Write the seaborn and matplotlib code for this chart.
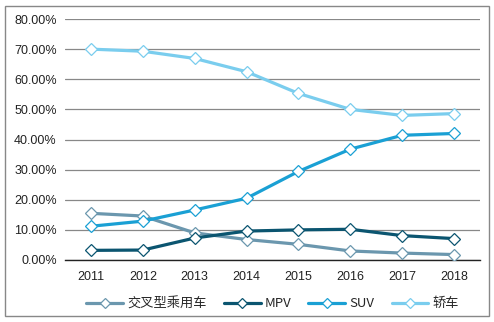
import matplotlib
matplotlib.use("Agg")
import matplotlib.pyplot as plt
import seaborn as sns
import pandas as pd
from matplotlib.ticker import FuncFormatter
from matplotlib.patches import Rectangle

years = ["2011", "2012", "2013", "2014", "2015", "2016", "2017", "2018"]
series_names = ["交叉型乘用车", "MPV", "SUV", "轿车"]
cross = [15.5, 14.6, 9.0, 6.8, 5.2, 3.0, 2.3, 1.8]
mpv = [3.2, 3.3, 7.3, 9.6, 10.0, 10.2, 8.1, 7.1]
suv = [11.2, 12.9, 16.6, 20.5, 29.4, 36.8, 41.4, 42.0]
sedan = [70.0, 69.3, 66.9, 62.5, 55.3, 50.0, 48.0, 48.6]
colors = ["#6B97AE", "#0B5570", "#1AA0D4", "#7ACDEE"]

sns.set_theme(style="white")
plt.rcParams["font.family"] = ["Noto Sans CJK SC", "DejaVu Sans"]

values = [cross, mpv, suv, sedan]
rows = []
for name, vals in zip(series_names, values):
    for i, v in enumerate(vals):
        rows.append({"idx": i, "val": v, "series": name})
df = pd.DataFrame(rows)

fig = plt.figure(figsize=(4.94, 3.22), dpi=100)
ax = fig.add_axes([65/494, 1-260/322, 415/494, 241/322])

for name, col in zip(series_names, colors):
    sub = df[df["series"] == name]
    sns.lineplot(data=sub, x="idx", y="val", ax=ax, color=col, linewidth=2.3,
                 marker="D", markersize=6.5, markerfacecolor="white",
                 markeredgecolor=col, markeredgewidth=0.9, label=name, zorder=3)

ax.set_xlim(-0.5, 7.5)
ax.set_ylim(0, 80)
ax.set_yticks(range(0, 81, 10))
ax.yaxis.set_major_formatter(FuncFormatter(lambda v, p: f"{v:.2f}%"))
ax.set_xticks(range(len(years)))
ax.set_xticklabels(years)
ax.set_xlabel("")
ax.set_ylabel("")
ax.grid(axis="y", color="#888888", linewidth=0.9)
ax.grid(axis="x", visible=False)
for s in ["top", "right", "left"]:
    ax.spines[s].set_visible(False)
ax.spines["bottom"].set_color("#222222")
ax.spines["bottom"].set_linewidth(1.0)
ax.tick_params(axis="both", length=0, labelsize=9, colors="#222222")
ax.tick_params(axis="y", pad=6)
ax.tick_params(axis="x", pad=8)
for lab in ax.get_xticklabels() + ax.get_yticklabels():
    lab.set_family(["Liberation Sans", "DejaVu Sans"])

leg = ax.legend(loc="upper center", bbox_to_anchor=(0.5, -0.105), ncol=4, frameon=False,
                fontsize=9.5, handlelength=2.8, columnspacing=1.3, handletextpad=0.3,
                markerscale=0.85)

fig.patches.append(Rectangle((5/494, 6/322), 484/494, 310/322, transform=fig.transFigure,
                             fill=False, edgecolor="#888888", linewidth=1.0))

fig.savefig("out.png", dpi=100)
